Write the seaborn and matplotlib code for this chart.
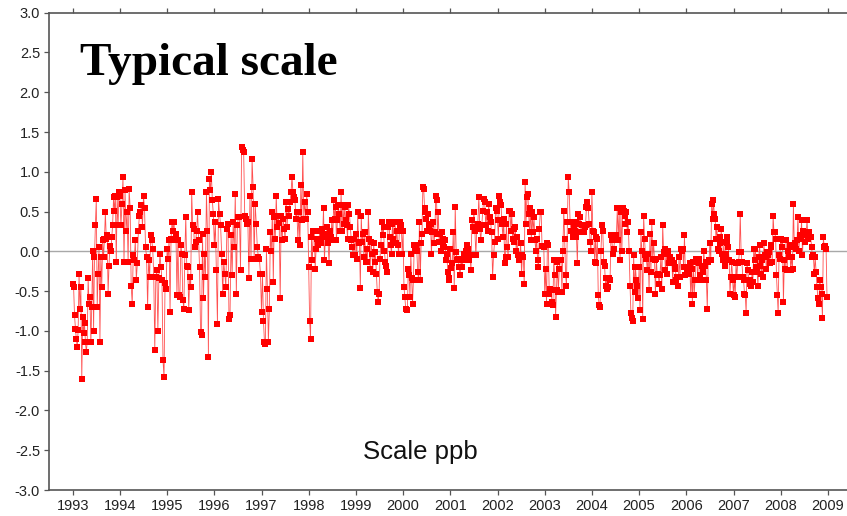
import numpy as np
import pandas as pd
import matplotlib
matplotlib.use("Agg")
import matplotlib.pyplot as plt
import seaborn as sns
from matplotlib.ticker import FixedLocator, FuncFormatter

# ---- data: anomaly values (ppb), roughly weekly, read per year ----
v1993 = [-0.41, -0.45, -0.80, -0.97, -1.10, -1.20, -0.99, -0.28, -0.72, -0.45, -1.60, -0.82, -1.03, -0.90,
         -1.14, -1.26, -1.14, -0.34, -0.66, -0.57, -1.14, -0.70, 0.01, -1.00, -0.07, 0.33, 0.66, -0.70, -0.28,
         0.05, -1.14, -0.07, -0.45, 0.14, -0.07, 0.16, 0.49, 0.16, 0.20, -0.53, -0.18, 0.07, 0.01, 0.18, 0.33,
         0.68, 0.51, 0.70, -0.13, 0.68, 0.33, 0.74]
v1994 = [0.70, 0.33, 0.59, 0.93, -0.13, 0.77, 0.26, 0.49, -0.13, 0.79, 0.54, -0.43, -0.66, -0.05, -0.11,
         0.14, -0.36, -0.15, 0.26, 0.45, 0.49, 0.58, 0.31, 0.70, 0.54, 0.05, -0.07, -0.70, -0.11, -0.32, 0.20,
         0.14, 0.03, -0.32, -1.24, -0.32, -0.24, -1.00, -0.34, -0.03, -0.20, -0.36, -1.37, -1.58, -0.40, -0.47]
v1995 = [0.03, -0.09, 0.14, -0.76, 0.16, 0.37, 0.26, 0.37, 0.14, 0.22, -0.55, 0.14, -0.55, -0.57, 0.08,
         -0.03, -0.61, -0.72, -0.05, 0.43, -0.18, -0.20, -0.74, -0.32, -0.45, 0.74, 0.33, 0.28, 0.05, 0.12,
         0.26, 0.49, 0.14, -0.20, -1.01, -1.05, 0.22, -0.59, -0.03, -0.32, 0.74, 0.26, -1.33, 0.91, 0.77, 1.00,
         0.64, 0.47]
v1996 = [0.08, 0.37, -0.24, -0.91, 0.66, 0.47, 0.33, -0.03, -0.53, -0.13, -0.28, -0.45, 0.28, 0.35, -0.85,
         -0.80, 0.20, -0.30, 0.37, 0.05, 0.72, -0.53, 0.33, 0.43, 0.43, -0.24, 1.31, 1.27, 1.25, 0.45, 0.41,
         0.35, 0.37, -0.34, 0.70, -0.09, 1.16, 0.81, -0.09, 0.60, 0.35, 0.05, -0.07, -0.09, -0.28]
v1997 = [-0.76, -0.28, -0.87, -1.14, -1.16, 0.03, -0.47, -1.14, -0.72, 0.24, 0.00, 0.49, -0.38, 0.43, 0.16,
         0.70, 0.30, 0.45, 0.36, -0.59, 0.45, 0.14, 0.41, 0.28, 0.16, 0.62, 0.30, 0.53, 0.45, 0.62, 0.74, 0.93,
         0.74, 0.68, 0.64, 0.41, 0.49, 0.14, 0.49, 0.08, 0.83, 0.39, 1.25, 0.41, 0.62, 0.41, 0.72, 0.49]
v1998 = [-0.20, -0.87, -1.10, 0.18, -0.11, 0.26, 0.26, -0.22, 0.03, 0.16, 0.08, 0.14, 0.26, 0.10, 0.28,
         0.18, 0.54, -0.11, 0.18, 0.22, 0.31, 0.10, -0.15, 0.26, 0.18, 0.39, 0.14, 0.64, 0.41, 0.56, 0.14, 0.39,
         0.58, 0.47, 0.26, 0.74, 0.26, 0.58, 0.35, 0.56, 0.39, 0.33, 0.16, 0.58, 0.47, 0.30, 0.14, 0.05, -0.05,
         0.16, -0.05]
v1999 = [0.22, -0.09, 0.49, 0.12, 0.10, -0.46, 0.45, 0.12, 0.22, -0.07, 0.24, -0.13, 0.03, -0.13, 0.49,
         0.16, -0.22, 0.12, -0.03, -0.26, 0.10, -0.13, -0.01, -0.28, -0.51, -0.64, -0.53, -0.09, 0.08, 0.37,
         0.20, 0.30, 0.01, -0.13, -0.18, -0.26, 0.30, 0.37, 0.18, 0.08, -0.03, 0.35, 0.16, 0.37, 0.37, 0.10,
         0.26, 0.08, -0.03, 0.37, 0.33, 0.33, -0.03]
v2000 = [0.26, -0.45, -0.57, -0.72, -0.74, -0.74, -0.22, -0.30, -0.57, -0.03, -0.34, -0.66, -0.36, 0.08,
         0.01, 0.08, 0.01, -0.26, -0.36, 0.37, -0.36, 0.10, 0.22, 0.81, 0.79, 0.54, 0.49, 0.41, 0.26, 0.47,
         0.33, 0.26, 0.35, -0.03, 0.24, 0.37, 0.10, 0.24, 0.70, 0.64, 0.22, 0.49, 0.12, 0.22, 0.01, 0.24, 0.16,
         0.08, 0.05, 0.14, -0.11, -0.03, -0.26, -0.34, -0.36]
v2001 = [0.03, -0.21, -0.15, 0.24, -0.46, 0.56, -0.01, -0.11, -0.09, -0.20, -0.30, -0.09, -0.20, -0.11,
         -0.03, -0.11, 0.01, 0.08, 0.03, -0.11, -0.05, -0.24, 0.39, 0.30, 0.49, 0.26, -0.05, 0.30, 0.35, 0.68,
         0.28, 0.14, 0.33, 0.51, 0.66, 0.62, 0.33, 0.49, 0.26, 0.60, 0.43, 0.37, 0.24, -0.32, -0.05, 0.12, 0.54,
         0.51]
v2002 = [0.39, 0.16, 0.70, 0.62, 0.58, 0.35, 0.18, 0.41, -0.15, -0.07, 0.35, 0.05, -0.07, 0.51, 0.51, 0.26,
         0.47, 0.16, 0.28, 0.12, 0.30, 0.01, 0.18, -0.05, -0.11, -0.07, 0.10, -0.28, -0.05, -0.07, -0.41, 0.87,
         0.35, 0.68, 0.72, 0.47, 0.24, 0.54, 0.14, 0.49, 0.24, 0.43, 0.14, 0.01, 0.16, -0.11, -0.20, 0.28, 0.49,
         0.49, 0.07, 0.07, 0.05]
v2003 = [-0.53, -0.22, -0.66, 0.10, 0.08, -0.53, -0.47, -0.49, -0.64, -0.68, -0.11, -0.30, -0.82, -0.49,
         -0.13, -0.51, -0.22, -0.11, -0.11, -0.51, 0.01, 0.51, 0.16, -0.30, -0.43, 0.37, 0.93, 0.74, 0.37, 0.26,
         0.37, 0.18, 0.33, 0.26, 0.37, 0.18, -0.15, 0.47, 0.35, 0.43, 0.24, 0.33, 0.24, 0.24, 0.30, 0.33, 0.56,
         0.62, 0.54, 0.35, 0.12, 0.00]
v2004 = [0.74, 0.26, 0.24, -0.13, 0.18, -0.15, 0.16, -0.55, -0.68, -0.70, 0.01, 0.33, 0.26, -0.13, -0.18,
         -0.43, -0.34, -0.47, -0.45, -0.34, -0.36, 0.20, 0.14, -0.03, 0.03, 0.14, 0.16, 0.20, 0.54, 0.14, 0.54,
         -0.11, 0.49, 0.00, 0.54, 0.51, 0.45, 0.35, 0.49, 0.24, 0.37, 0.01, -0.43, -0.78, -0.84, -0.87, -0.05,
         -0.51, -0.20, -0.36, -0.43, -0.59]
v2005 = [-0.20, -0.74, 0.24, 0.01, -0.85, 0.45, 0.16, -0.05, -0.09, -0.24, -0.03, -0.49, 0.22, -0.26, 0.37,
         -0.09, 0.10, -0.11, -0.53, -0.09, -0.30, -0.28, -0.41, -0.30, -0.07, -0.47, 0.33, -0.01, 0.03, -0.24,
         -0.03, -0.28, 0.01, -0.15, -0.07, -0.11, -0.11, -0.38, -0.15, -0.20, -0.22, -0.36, -0.32, -0.43, -0.07,
         -0.32, 0.03, 0.01, 0.03, -0.20, 0.20, -0.30]
v2006 = [-0.20, -0.26, -0.22, -0.28, -0.15, -0.55, -0.22, -0.66, -0.13, -0.55, -0.36, -0.09, -0.11, -0.36,
         -0.09, -0.15, -0.30, -0.36, -0.18, -0.26, 0.01, -0.18, -0.13, -0.36, -0.72, -0.13, -0.11, 0.10, -0.11,
         0.60, 0.41, 0.64, 0.47, 0.41, 0.16, 0.31, 0.03, 0.01, 0.18, 0.10, 0.28, -0.03, -0.11, 0.12, -0.18,
         -0.03, 0.18, 0.10, 0.05, -0.11, -0.53, -0.32, -0.13, -0.36]
v2007 = [-0.55, -0.32, -0.57, -0.15, -0.32, -0.15, -0.13, -0.01, 0.47, -0.01, -0.13, -0.32, -0.36, -0.53,
         -0.55, -0.78, -0.15, -0.24, -0.36, -0.41, -0.36, -0.43, -0.26, -0.38, 0.03, -0.11, 0.03, -0.20, -0.26,
         -0.43, -0.07, 0.08, -0.18, -0.28, -0.11, -0.32, 0.10, -0.05, -0.07, -0.22, -0.01, -0.05, -0.01, -0.15,
         0.08, 0.05, -0.13, 0.45, 0.24, 0.24, 0.16, -0.30, -0.55, -0.78, -0.05, -0.09]
v2008 = [0.16, 0.05, 0.14, -0.64, -0.11, -0.22, 0.14, -0.24, 0.01, -0.07, 0.08, -0.24, -0.07, -0.22, 0.60,
         0.05, 0.10, 0.03, 0.14, 0.43, 0.01, 0.20, 0.16, 0.39, -0.05, 0.26, 0.22, 0.12, 0.20, 0.39, 0.16, 0.24,
         0.18, 0.18, 0.05, -0.07, -0.05, -0.28, -0.07, -0.26, -0.45, -0.59, -0.66, -0.36, -0.45, -0.53, -0.84,
         0.18, 0.05, 0.07, 0.03, -0.57]

years = list(range(1993, 2009))
series_by_year = [v1993, v1994, v1995, v1996, v1997, v1998, v1999, v2000,
                  v2001, v2002, v2003, v2004, v2005, v2006, v2007, v2008]
xtick_years = list(range(1993, 2010))
yticks = [-3.0, -2.5, -2.0, -1.5, -1.0, -0.5, 0.0, 0.5, 1.0, 1.5, 2.0, 2.5, 3.0]
title_text = "Typical scale"
note_text = "Scale ppb"

# ---- build tidy frame (time = year + fraction of year) ----
t_all, v_all = [], []
for yr, vals in zip(years, series_by_year):
    n = len(vals)
    t_all.extend(yr + np.arange(n) / n)
    v_all.extend(vals)
df = pd.DataFrame({"time": t_all, "value": v_all})

# ---- plot ----
sns.set_style("white")
plt.rcParams["font.family"] = ["Liberation Sans", "DejaVu Sans"]
plt.rcParams["axes.unicode_minus"] = False

W, H = 847, 516
fig = plt.figure(figsize=(W / 100, H / 100), dpi=100)
left_px, right_px = 49.1, 851.5
top_px, bot_px = 12.7, 490.0
ax = fig.add_axes([left_px / W, 1 - bot_px / H, (right_px - left_px) / W, (bot_px - top_px) / H])

ax.axhline(0, color="#a8a8a8", lw=1.0, zorder=1)
sns.lineplot(data=df, x="time", y="value", ax=ax, color="#ff5050", lw=0.6,
             estimator=None, sort=False, zorder=2)
sns.scatterplot(data=df, x="time", y="value", ax=ax, color="#ff0000", marker="s",
                s=16, linewidth=0, zorder=3)

ax.set_xlim(1992.5, 2009.5)
ax.set_ylim(-3.0, 3.0)
ax.xaxis.set_major_locator(FixedLocator(xtick_years))
ax.yaxis.set_major_locator(FixedLocator(yticks))
ax.yaxis.set_major_formatter(FuncFormatter(lambda v, p: f"{v:.1f}"))
ax.xaxis.set_major_formatter(FuncFormatter(lambda v, p: f"{int(round(v))}"))
ax.set_xlabel("")
ax.set_ylabel("")

for side in ["left", "bottom", "top", "right"]:
    ax.spines[side].set_visible(True)
    ax.spines[side].set_color("#555555")
    ax.spines[side].set_linewidth(1.2)
ax.tick_params(axis="both", which="major", direction="out", length=3.5, width=0.9,
               color="#555555", labelsize=10.5, labelcolor="#222222", pad=3)
ax.tick_params(axis="x", top=True, bottom=True, labeltop=False)
ax.tick_params(axis="y", left=True, right=False)

fig.text(80 / W, 1 - 75 / H, title_text, fontsize=34, fontweight="bold",
         family=["Liberation Serif", "DejaVu Serif"], color="black", va="baseline", ha="left")
fig.text(420 / W, 1 - 459 / H, note_text, fontsize=18.5, color="#111111", va="baseline", ha="center")

fig.savefig("out.png", dpi=100)
